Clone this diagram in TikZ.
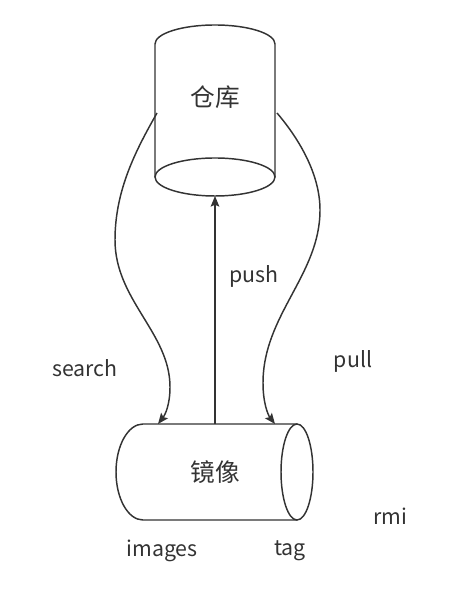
\documentclass[tikz,border=0pt]{standalone}
\usepackage{fontspec}
\newfontfamily\cjk{Noto Sans CJK SC}
\usetikzlibrary{arrows.meta}
\definecolor{ink}{HTML}{333333}

\begin{document}
\begin{tikzpicture}[x=0.75pt, y=0.75pt, line width=1.1pt,
    every node/.style={font=\cjk\fontsize{16pt}{18pt}\selectfont, text=ink, inner sep=0pt},
    title/.style={font=\cjk\fontsize{18.5pt}{20pt}\selectfont},
    >={Stealth[length=8pt, width=6.5pt, inset=1.5pt]}]
    \useasboundingbox (0, 0) rectangle (475, 595);

    % cylinders
    \draw[ink] (155, 418) -- (155, 551) arc[start angle=180, end angle=0, x radius=60, y radius=19] -- (275, 418);
    \draw[ink] (215, 418) ellipse[x radius=60, y radius=19];
    \draw[ink] (297, 171) -- (143, 171) arc[start angle=90, end angle=270, x radius=27, y radius=48] -- (297, 75);
    \draw[ink] (297, 123) ellipse[x radius=16, y radius=48];

    \node[title] (repo) at (215, 498) {仓库};
    \node[title] (img) at (215, 123) {镜像};

    \coordinate (repo-w) at (157, 482);
    \coordinate (repo-e) at (277, 482);
    \coordinate (repo-s) at (215, 399);
    \coordinate (img-nw) at (158, 171);
    \coordinate (img-n) at (215, 171);
    \coordinate (img-ne) at (275, 171);

    % connectors
    \draw[ink, ->] (repo-w) .. controls (136, 445) and (115, 405) .. (115, 355)
        .. controls (115, 295) and (170, 262) .. (170, 208)
        .. controls (170, 190) and (165, 180) .. (img-nw);
    \draw[ink, ->] (repo-e) .. controls (300, 455) and (320, 420) .. (320, 385)
        .. controls (320, 320) and (263, 280) .. (263, 212)
        .. controls (263, 192) and (268, 180) .. (img-ne);
    \draw[ink, ->] (img-n) -- (repo-s);

    % labels
    \node (search) at (85, 227) {search};
    \node (push) at (254, 319) {push};
    \node (pull) at (353, 234) {pull};
    \node (rmi) at (390, 79) {rmi};
    \node (images) at (162, 44) {images};
    \node (tag) at (290, 44) {tag};
\end{tikzpicture}
\end{document}
